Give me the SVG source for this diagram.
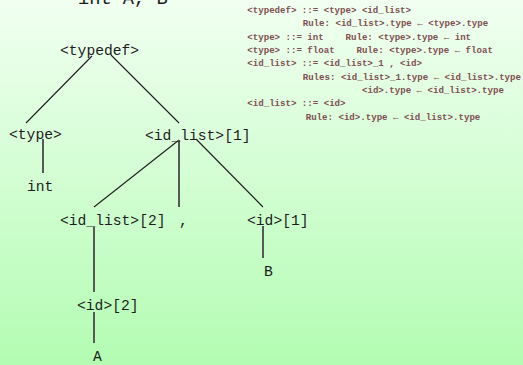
<svg xmlns="http://www.w3.org/2000/svg" width="523" height="365" viewBox="0 0 523 365">
  <defs>
    <linearGradient id="bg" x1="0" y1="0" x2="0" y2="1">
      <stop offset="0" stop-color="#f1fff1"/>
      <stop offset="1" stop-color="#b3fcb3"/>
    </linearGradient>
    <style>
      .node { font-family: "Liberation Mono", "DejaVu Sans Mono", monospace; font-size: 14.67px; fill: #1c1c1c; }
      .title { font-family: "Liberation Mono", "DejaVu Sans Mono", monospace; font-size: 18.7px; fill: #1c1c1c; }
      .rule { font-family: "Liberation Mono", "DejaVu Sans Mono", monospace; font-size: 9.1px; font-weight: bold; fill: #7f5050; }
      .edge { stroke: #1e1e1e; stroke-width: 1.1; fill: none; }
      .stem { stroke: #555a55; stroke-width: 2; fill: none; }
    </style>
  </defs>

  <rect x="0" y="0" width="523" height="365" fill="url(#bg)"/>

  <!-- source sentence, running off the top edge -->
  <text class="title" x="78" y="4">int A, B</text>

  <!-- attribute grammar -->
  <g id="grammar">
    <text class="rule" x="247.3" y="12.5">&lt;typedef&gt; ::= &lt;type&gt; &lt;id_list&gt;</text>
    <text class="rule" x="302.7" y="26">Rule: &lt;id_list&gt;.type ← &lt;type&gt;.type</text>
    <text class="rule" x="247.3" y="39.5" xml:space="preserve">&lt;type&gt; ::= int    Rule: &lt;type&gt;.type ← int</text>
    <text class="rule" x="247.3" y="52.5" xml:space="preserve">&lt;type&gt; ::= float    Rule: &lt;type&gt;.type ← float</text>
    <text class="rule" x="247.3" y="65.5">&lt;id_list&gt; ::= &lt;id_list&gt;_1 , &lt;id&gt;</text>
    <text class="rule" x="302.7" y="79.5">Rules: &lt;id_list&gt;_1.type ← &lt;id_list&gt;.type</text>
    <text class="rule" x="362" y="92.5">&lt;id&gt;.type ← &lt;id_list&gt;.type</text>
    <text class="rule" x="247.3" y="105.5">&lt;id_list&gt; ::= &lt;id&gt;</text>
    <text class="rule" x="305.7" y="119.5">Rule: &lt;id&gt;.type ← &lt;id_list&gt;.type</text>
  </g>

  <!-- parse tree edges -->
  <g id="connectors">
    <line class="edge" x1="92" y1="56" x2="26" y2="123"/>
    <line class="edge" x1="111" y1="55" x2="179" y2="123"/>
    <line class="stem" x1="43" y1="139" x2="43" y2="173"/>
    <line class="edge" x1="179" y1="140" x2="94" y2="207"/>
    <line class="stem" x1="179" y1="140" x2="179" y2="207"/>
    <line class="edge" x1="196" y1="139" x2="263" y2="207"/>
    <line class="stem" x1="263" y1="226" x2="263" y2="258"/>
    <line class="stem" x1="94" y1="227" x2="94" y2="292"/>
    <line class="stem" x1="94" y1="312" x2="94" y2="343"/>
  </g>

  <!-- parse tree nodes -->
  <g id="typedef"><text class="node" x="60" y="55">&lt;typedef&gt;</text></g>
  <g id="type"><text class="node" x="9" y="139">&lt;type&gt;</text></g>
  <g id="id_list1"><text class="node" x="145" y="140">&lt;id_list&gt;[1]</text></g>
  <g id="int"><text class="node" x="27" y="191">int</text></g>
  <g id="id_list2"><text class="node" x="60" y="225">&lt;id_list&gt;[2]</text></g>
  <g id="comma"><text class="node" x="179" y="225">,</text></g>
  <g id="id1"><text class="node" x="247" y="225">&lt;id&gt;[1]</text></g>
  <g id="B"><text class="node" x="264" y="276">B</text></g>
  <g id="id2"><text class="node" x="77" y="310">&lt;id&gt;[2]</text></g>
  <g id="A"><text class="node" x="93" y="361">A</text></g>
</svg>
